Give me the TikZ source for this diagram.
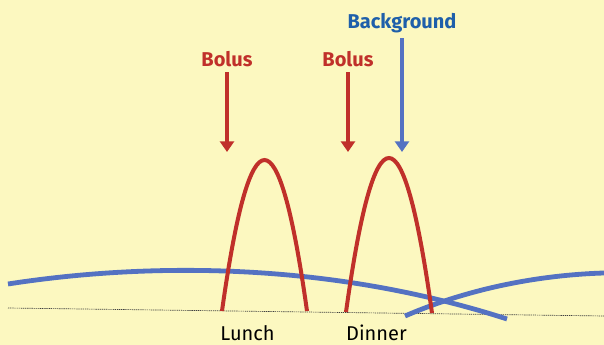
\documentclass[tikz,border=0pt]{standalone}
\usepackage{fontspec}
\setmainfont{Fira Sans}
\usetikzlibrary{arrows.meta,positioning}

\definecolor{paper}{HTML}{FCF8C0}
\definecolor{bolusred}{HTML}{C0302A}
\definecolor{basalblue}{HTML}{5472C2}
\definecolor{labelblue}{HTML}{1E5FAA}

\begin{document}
\begin{tikzpicture}[x=0.75pt, y=-0.75pt,
    doselabel/.style={font=\bfseries\fontsize{15}{18}\selectfont, anchor=base},
    mealtext/.style={font=\fontsize{15}{18}\selectfont, anchor=base, inner sep=0.5pt},
    dosearrow/.style={line width=3pt, -{Triangle[width=10.5pt, length=8pt]}},
    insulin/.style={line width=3pt, bolusred},
    basal/.style={line width=3.6pt, basalblue}]
    \useasboundingbox (0,0) rectangle (604,345);
    \clip (0,0) rectangle (604,345);
    \fill [paper] (0,0) rectangle (604,345);

    % time axis
    \coordinate (axisL) at (8,308);
    \coordinate (axisR) at (604,316);
    \draw [black!75, line width=0.5pt, dash pattern=on 1pt off 0.6pt] (axisL) -- (axisR);

    % background insulin
    \coordinate (basalA1) at (8,284);
    \coordinate (basalA2) at (507,319);
    \coordinate (basalB1) at (405,316);
    \coordinate (basalB2) at (604,273);
    \draw [basal] (basalA1) .. controls (150,262) and (330,262) .. (basalA2);
    \draw [basal] (basalB1) .. controls (470,288) and (540,275) .. (basalB2);

    % meal boluses
    \coordinate (lunchL) at (222,311);
    \coordinate (lunchR) at (307,311);
    \coordinate (dinnerL) at (346,312);
    \coordinate (dinnerR) at (432,313);
    \draw [insulin] (lunchL) .. controls (250.3,109.7) and (278.7,109.7) .. (lunchR);
    \draw [insulin] (dinnerL) .. controls (374.7,106.3) and (403.3,106.7) .. (dinnerR);

    % labels and arrows
    \node [doselabel, text=bolusred] (bolus1) at (227,67) {Bolus};
    \node [doselabel, text=bolusred] (bolus2) at (348,67) {Bolus};
    \node [doselabel, text=labelblue] (backgr) at (402,29) {Background};
    \coordinate (tip1) at (227,152);
    \coordinate (tip2) at (348,152);
    \coordinate (tip3) at (402,152);
    \draw [dosearrow, bolusred] (bolus1.south) -- (tip1);
    \draw [dosearrow, bolusred] (bolus2.south) -- (tip2);
    \draw [dosearrow, basalblue] (backgr.south) -- (tip3);

    \node [mealtext] (lunch) at (247.5,341) {Lunch};
    \node [mealtext] (dinner) at (376.5,341) {Dinner};
\end{tikzpicture}
\end{document}
